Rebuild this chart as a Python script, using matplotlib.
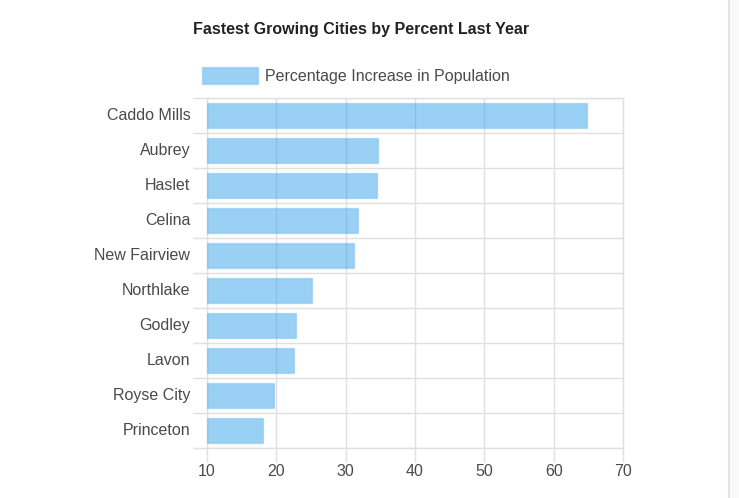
import matplotlib
matplotlib.use("Agg")
import matplotlib.pyplot as plt
from matplotlib.patches import Rectangle
from matplotlib.lines import Line2D
import numpy as np

plt.rcParams['font.family'] = ['Liberation Sans', 'DejaVu Sans']

title = "Fastest Growing Cities by Percent Last Year"
series_name = "Percentage Increase in Population"
cities = ["Caddo Mills", "Aubrey", "Haslet", "Celina", "New Fairview",
          "Northlake", "Godley", "Lavon", "Royse City", "Princeton"]
values = [64.8, 34.6, 34.5, 31.8, 31.2, 25.2, 22.9, 22.5, 19.7, 18.1]
x_ticks = [10, 20, 30, 40, 50, 60, 70]

W, H = 739, 498
fig = plt.figure(figsize=(W / 100, H / 100), dpi=100)
fig.patch.set_facecolor("white")

# right-side page edge
fig.patches.append(Rectangle((729 / W, 0), 1 - 729 / W, 1, transform=fig.transFigure,
                             facecolor="#fafafa", edgecolor="none", zorder=0))
fig.lines.append(Line2D([729 / W, 729 / W], [0, 1], transform=fig.transFigure,
                        color="#e4e4e4", lw=1.5))

ax = fig.add_axes([207 / W, 50.3 / H, 416 / W, 350 / H])
grid_c = "#e0e0e0"
text_c = "#4a4a4a"
bar_fill = (54 / 255, 162 / 255, 235 / 255, 0.5)
bar_edge = (54 / 255, 162 / 255, 235 / 255, 0.25)
ypos = np.arange(len(cities))
ax.barh(ypos, [v - x_ticks[0] for v in values], left=x_ticks[0], height=0.72,
        color=bar_fill, edgecolor=bar_edge, linewidth=1, zorder=3)

ax.set_xlim(x_ticks[0], x_ticks[-1])
ax.set_ylim(len(cities) - 0.5, -0.5)
ax.set_xticks(x_ticks)
ax.set_xticklabels([str(t) for t in x_ticks])
ax.set_yticks(ypos)
ax.set_yticklabels(cities)
for lbl in ax.get_yticklabels():
    lbl.set_va("center")
ax.set_yticks(np.arange(len(cities) + 1) - 0.5, minor=True)

ax.grid(True, axis="x", which="major", color=grid_c, lw=1, zorder=0)
ax.grid(True, axis="y", which="minor", color=grid_c, lw=1, zorder=0)
ax.tick_params(axis="y", which="major", length=0, pad=12, labelsize=11.5, labelcolor=text_c)
ax.tick_params(axis="y", which="minor", length=10, color=grid_c, width=1)
ax.tick_params(axis="x", which="major", length=10, color=grid_c, width=1, pad=2,
               labelsize=11.5, labelcolor=text_c)
for s in ax.spines.values():
    s.set_color(grid_c)
    s.set_linewidth(1)

fig.text(361 / W, 1 - 29 / H, title, ha="center", va="center",
         fontsize=11.5, fontweight="bold", color="#222222")

leg = fig.legend(handles=[Rectangle((0, 0), 1, 1, facecolor=bar_fill, edgecolor=bar_edge, lw=1)],
                 labels=[series_name], loc="center left",
                 bbox_to_anchor=(202 / W, 1 - 75.5 / H), frameon=False,
                 fontsize=11.5, handlelength=3.5, handleheight=1.2, handletextpad=0.45,
                 borderpad=0, borderaxespad=0, labelcolor=text_c)

fig.savefig("out.png", dpi=100)
